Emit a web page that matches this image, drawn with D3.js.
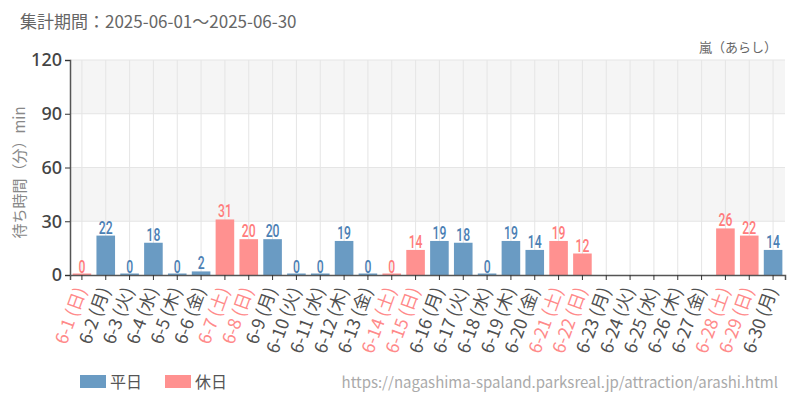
<!DOCTYPE html>
<html>
<head>
<meta charset="utf-8">
<script src="https://cdn.jsdelivr.net/npm/d3@7"></script>
<style>
  body { margin: 0; background: #fff; }
  svg { font-family: "Noto Sans CJK JP", "Noto Sans", sans-serif; }
  .valText { font-family: "Roboto", "Noto Sans", sans-serif; font-size: 19px; font-weight: 500; }
</style>
</head>
<body>
<div id="chart"></div>
<script>
var svgWidth = 800;
var svgHeight = 400;

var margin = { top: 60, right: 15, bottom: 125, left: 70 };
var width = svgWidth - margin.left - margin.right;
var height = svgHeight - margin.top - margin.bottom;

// data (null = no data)
var days = ["6-1", "6-2", "6-3", "6-4", "6-5", "6-6", "6-7", "6-8", "6-9", "6-10",
    "6-11", "6-12", "6-13", "6-14", "6-15", "6-16", "6-17", "6-18", "6-19", "6-20",
    "6-21", "6-22", "6-23", "6-24", "6-25", "6-26", "6-27", "6-28", "6-29", "6-30"];
var weekdays = ["日", "月", "火", "水", "木", "金", "土", "日", "月", "火",
    "水", "木", "金", "土", "日", "月", "火", "水", "木", "金",
    "土", "日", "月", "火", "水", "木", "金", "土", "日", "月"];
var holidays = ["6-1", "6-7", "6-8", "6-14", "6-15", "6-21", "6-22", "6-28", "6-29"];
var waits = [0, 22, 0, 18, 0, 2, 31, 20, 20, 0,
    0, 19, 0, 0, 14, 19, 18, 0, 19, 14,
    19, 12, null, null, null, null, null, 26, 22, 14];
var yTicks = [0, 30, 60, 90, 120];

var blueBar = "#6a9bc3", redBar = "#ff9190";
var blueText = "#4b80b4", redText = "#ff7c7c";

var data = days.map(function (d, i) {
    return { day: d, wd: weekdays[i], wait: waits[i], hol: holidays.indexOf(d) >= 0 };
});

var svg = d3.select("#chart")
    .append("svg")
    .attr("width", svgWidth)
    .attr("height", svgHeight);

var chartGroup = svg.append("g")
    .attr("transform", `translate(${margin.left}, ${margin.top})`);

var xScale = d3.scaleBand()
    .domain(days)
    .range([0, width])
    .paddingInner(0.22)
    .paddingOuter(0.11);

var yScale = d3.scaleLinear()
    .domain([0, 120])
    .range([height, 0]);

var xc = d => xScale(d) + xScale.bandwidth() / 2;

// background stripes
[[90, 120], [30, 60]].forEach(function (b) {
    chartGroup.append("rect")
        .attr("x", 0)
        .attr("y", yScale(b[1]))
        .attr("width", width)
        .attr("height", yScale(b[0]) - yScale(b[1]))
        .attr("fill", "#f5f5f5");
});

// grid
chartGroup.append("g").selectAll("line")
    .data(days)
    .enter()
    .append("line")
    .attr("x1", d => xc(d)).attr("x2", d => xc(d))
    .attr("y1", 0).attr("y2", height)
    .attr("stroke", "#e5e5e5");

chartGroup.append("g").selectAll("line")
    .data(yTicks.slice(1))
    .enter()
    .append("line")
    .attr("x1", 0).attr("x2", width)
    .attr("y1", d => yScale(d)).attr("y2", d => yScale(d))
    .attr("stroke", "#e5e5e5");

// bars
var shown = data.filter(d => d.wait !== null);

chartGroup.append("g").selectAll("rect")
    .data(shown)
    .enter()
    .append("rect")
    .attr("x", d => xScale(d.day))
    .attr("width", xScale.bandwidth())
    .attr("y", d => Math.min(yScale(d.wait), height - 1.5))
    .attr("height", d => Math.max(height - yScale(d.wait), 1.5))
    .attr("fill", d => d.hol ? redBar : blueBar);

// value labels, squeezed to look like a condensed face
chartGroup.append("g").selectAll("text")
    .data(shown)
    .enter()
    .append("text")
    .attr("class", "valText")
    .attr("transform", d => `translate(${xc(d.day)}, ${yScale(d.wait) - 2}) scale(0.64, 1)`)
    .attr("text-anchor", "middle")
    .attr("fill", d => d.hol ? redText : blueText)
    .text(d => d.wait);

// axes
var bottomAxis = d3.axisBottom(xScale).tickSize(5).tickFormat("");
var leftAxis = d3.axisLeft(yScale).tickValues(yTicks).tickSize(5);

var xAxisG = chartGroup.append("g")
    .attr("transform", `translate(0, ${height})`)
    .call(bottomAxis);
xAxisG.select(".domain").attr("stroke", "#555").attr("stroke-width", 1.5);
xAxisG.selectAll(".tick line").attr("stroke", "#333");

var yAxisG = chartGroup.append("g").call(leftAxis);
yAxisG.select(".domain").attr("stroke", "#555").attr("stroke-width", 1.5);
yAxisG.selectAll(".tick line").attr("stroke", "#333");
yAxisG.selectAll(".tick text")
    .attr("font-family", "'Noto Sans', sans-serif")
    .attr("font-size", 18)
    .attr("font-weight", 500)
    .attr("fill", "#444");

// x labels
chartGroup.append("g").selectAll("text")
    .data(data)
    .enter()
    .append("text")
    .attr("transform", d => `translate(${xc(d.day) - 1}, ${height + 13}) rotate(-70)`)
    .attr("text-anchor", "end")
    .attr("dy", "0.35em")
    .attr("font-size", 17.5)
    .attr("fill", d => d.hol ? "#ff8a8a" : "#505050")
    .text(d => `${d.day} (${d.wd})`);

// titles
svg.append("text")
    .attr("x", 20).attr("y", 28)
    .attr("font-size", 17)
    .attr("fill", "#666")
    .text("集計期間：2025-06-01〜2025-06-30");

svg.append("text")
    .attr("x", 777).attr("y", 52)
    .attr("text-anchor", "end")
    .attr("font-size", 13)
    .attr("fill", "#666")
    .text("嵐（あらし）");

svg.append("text")
    .attr("transform", `translate(25, ${margin.top + height / 2 + 5}) rotate(-90)`)
    .attr("text-anchor", "middle")
    .attr("font-size", 15)
    .attr("fill", "#888")
    .text("待ち時間（分）min");

// legend
var legend = [["平日", blueBar], ["休日", redBar]];
var lg = svg.append("g").selectAll("g")
    .data(legend)
    .enter()
    .append("g")
    .attr("transform", (d, i) => `translate(${80 + i * 85}, 375)`);
lg.append("rect").attr("width", 26).attr("height", 13).attr("fill", d => d[1]);
lg.append("text")
    .attr("x", 30).attr("y", 13)
    .attr("font-size", 16)
    .attr("fill", "#555")
    .text(d => d[0]);

svg.append("text")
    .attr("x", 778).attr("y", 388)
    .attr("text-anchor", "end")
    .attr("font-size", 15)
    .attr("fill", "#aaa")
    .text("https://nagashima-spaland.parksreal.jp/attraction/arashi.html");
</script>
</body>
</html>
